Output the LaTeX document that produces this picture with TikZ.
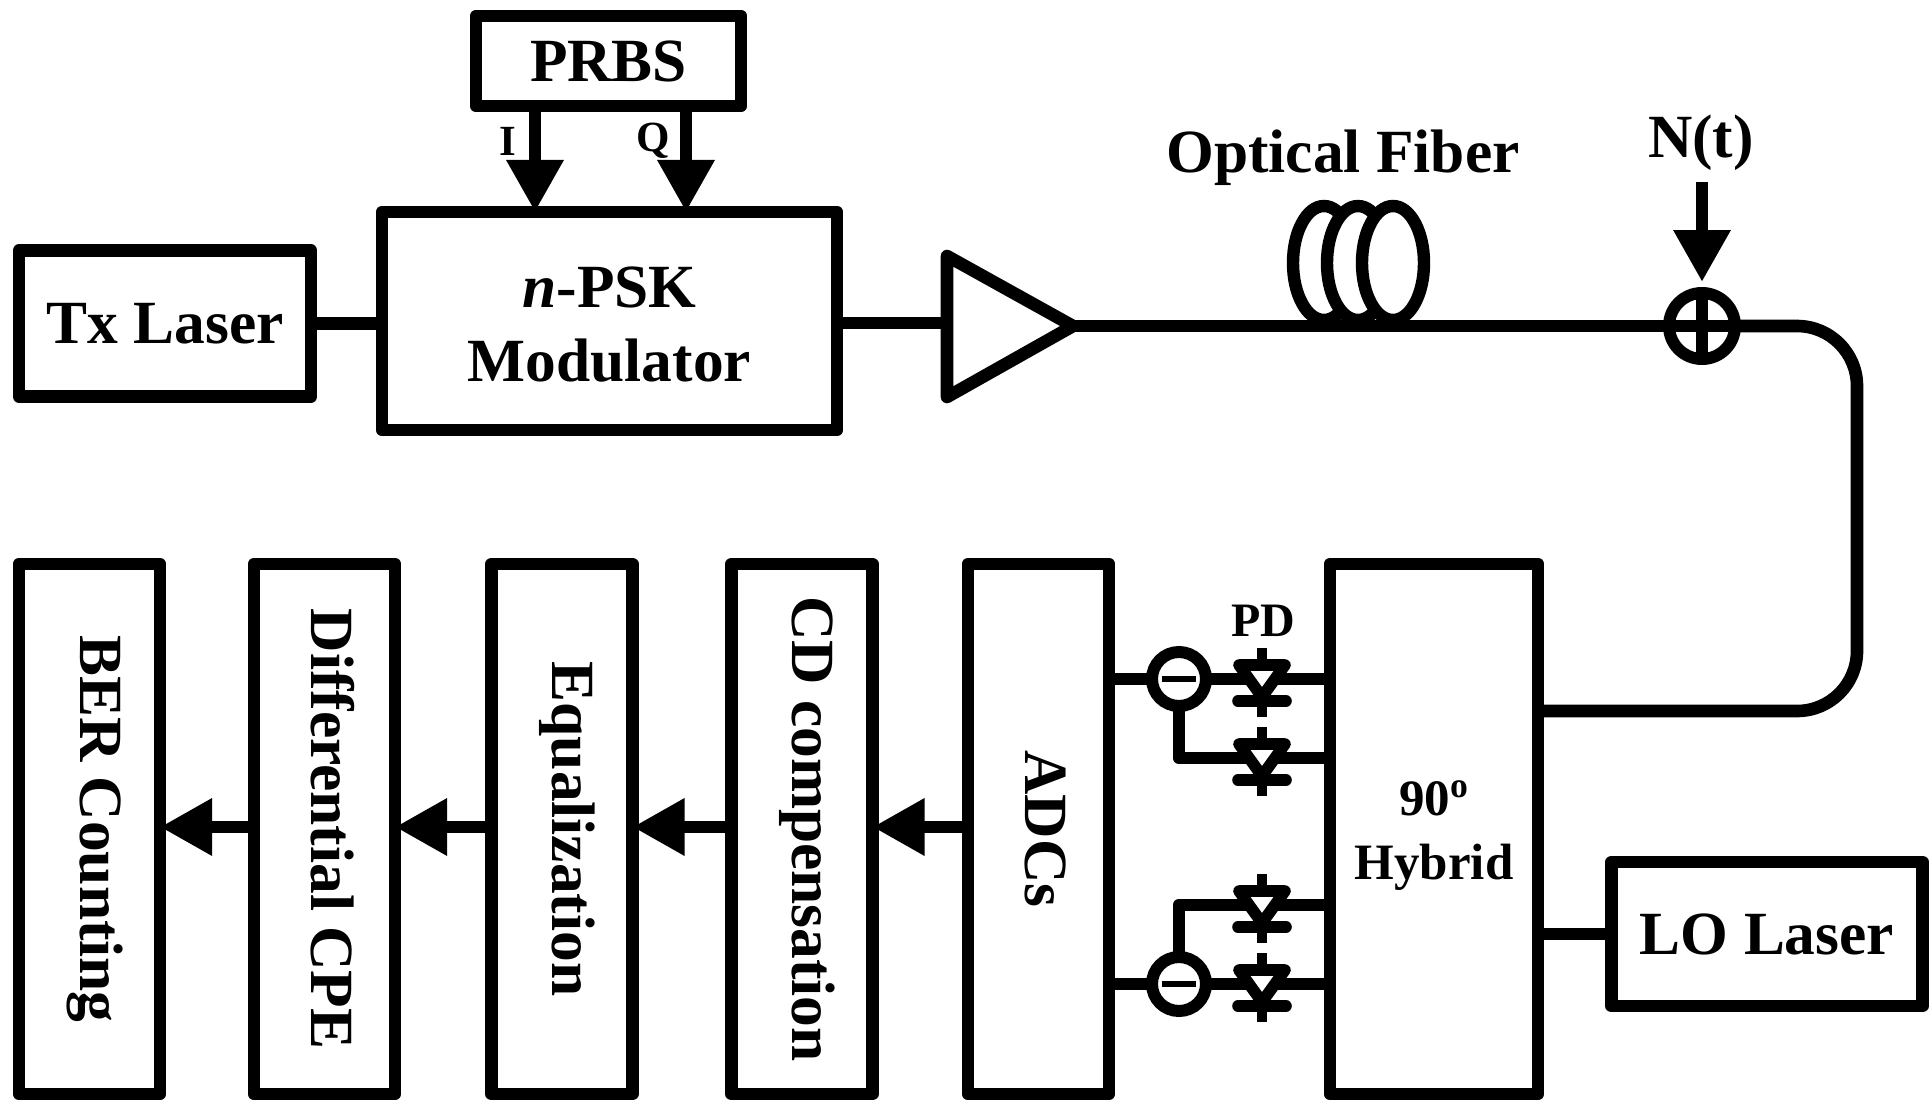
\documentclass[tikz,border=0pt]{standalone}
\usepackage{graphicx}
\usepackage{fontspec}
\setmainfont{Liberation Serif}
\usetikzlibrary{arrows.meta}
\newcommand{\rtext}[2]{\hspace*{#1}\rotatebox{-90}{#2}}
\tikzset{
  every node/.style={font=\fontsize{30.7}{37}\selectfont\bfseries},
  wire/.style={line width=6.3pt,line join=round},
  box/.style={draw,line width=6.3pt,line join=round,inner sep=0pt,outer sep=0pt,align=center,fill=white},
  tallbox/.style={box,minimum width=70.5pt,minimum height=265pt},
  flow/.style={wire,-{Triangle[length=26pt,width=27pt]}},
  ring/.style={draw,circle,line width=6pt,inner sep=0pt,outer sep=0pt,fill=white,minimum size=27pt},
  pdlabel/.style={font=\fontsize{24}{29}\selectfont\bfseries,inner sep=0pt},
  iqlabel/.style={font=\fontsize{21.5}{26}\selectfont\bfseries,inner sep=0pt},
  coil/.style={line width=6.2pt,fill=white},
  diode/.pic={
    \draw[line width=5pt] (0,-31) -- (0,38);
    \draw[line width=5.8pt,line join=round,fill=white] (-23,-14) -- (23,-14) -- (0,18) -- cycle;
    \draw[line width=5.8pt,line cap=round] (-24,22) -- (24,22);
  }
}
\begin{document}
\begin{tikzpicture}[x=0.5pt,y=-0.5pt]
\useasboundingbox (0,0) rectangle (1929,1102);
\fill[white] (0,0) rectangle (1929,1102);
% boxes
\node[box,minimum width=146pt,minimum height=73pt] (tx) at (165,323.5) {Tx Laser};
\node[box,minimum width=227.5pt,minimum height=109pt] (mod) at (609.5,321) {\rule{0pt}{24pt}\textit{n}-PSK\\Modulator};
\node[box,minimum width=132.5pt,minimum height=45pt] (prbs) at (608.5,61) {PRBS};
\node[tallbox] (ber) at (89.5,829) {\rtext{6pt}{BER Counting}};
\node[tallbox] (cpe) at (324.5,829) {\rtext{8.5pt}{Differential CPE}};
\node[tallbox] (eq) at (562,829) {\rtext{5pt}{Equalization}};
\node[tallbox] (cd) at (802,829) {\rtext{5pt}{CD compensation}};
\node[tallbox] (adc) at (1038.5,829) {\rtext{7pt}{ADCs}};
\node[box,minimum width=104pt,minimum height=265pt,font=\fontsize{25.5}{32}\selectfont\bfseries] (hyb) at (1434,829) {\rule{0pt}{24pt}90\textsuperscript{o}\\Hybrid};
\node[box,minimum width=155.5pt,minimum height=72pt] (lo) at (1767,934) {LO Laser};
% text labels
\node[inner sep=0pt] (fibertext) at (1343,158) {Optical Fiber};
\node[inner sep=0pt] (ntext) at (1701,143) {N(t)};
\node[pdlabel] (pdtext) at (1263,621) {PD};
\node[iqlabel] (itext) at (508,141) {I};
\node[iqlabel] (qtext) at (653,141) {Q};
% fibre coil
\coordinate (c1) at (1324,263);
\coordinate (c2) at (1358,263);
\coordinate (c3) at (1393,263);
\draw[coil] (c1) ellipse[x radius=31,y radius=57];
\draw[coil] (c2) ellipse[x radius=31,y radius=57];
\draw[coil] (c3) ellipse[x radius=31,y radius=57];
% amplifier
\coordinate (ampA) at (947,256);
\coordinate (ampB) at (947,397);
\coordinate (ampT) at (1073,326);
\coordinate (ampIn) at (947,323);
% adder
\node[ring,minimum size=33pt,fill=none] (add) at (1702,326) {};
\coordinate (bendT) at (1857,326);
\coordinate (bendB) at (1857,711);
\coordinate (hybIn) at (1538,711);
\coordinate (nstart) at (1702,182);
% connectors top
\draw[wire] (tx.east) -- (mod.west |- tx.east);
\draw[wire] (mod.east |- ampIn) -- (ampIn);
\draw[wire] (ampA) -- (ampT) -- (ampB) -- cycle;
\draw[wire] (ampT) -- (add.west);
\draw[wire] (add.west) -- (add.east);
\draw[wire,rounded corners=30pt] (add.east) -- (bendT) -- (bendB) -- (hybIn);
\draw[wire] (add.north) -- (add.south);
\draw[flow,shorten >=5.5pt] (nstart) -- (add.north);
\coordinate (iX) at (535,106);
\coordinate (qX) at (686,106);
\draw[flow] (iX) -- (iX |- mod.north);
\draw[flow] (qX) -- (qX |- mod.north);
% connectors bottom
\coordinate (flowY) at (0,827);
\draw[flow] (adc.west |- flowY) -- (cd.east |- flowY);
\draw[flow] (cd.west |- flowY) -- (eq.east |- flowY);
\draw[flow] (eq.west |- flowY) -- (cpe.east |- flowY);
\draw[flow] (cpe.west |- flowY) -- (ber.east |- flowY);
\draw[wire] (hyb.east |- lo.west) -- (lo.west);
% photodiode rows
\coordinate (r1) at (1330,679);
\coordinate (r2) at (1330,758);
\coordinate (r3) at (1330,905);
\coordinate (r4) at (1330,984);
\node[ring] (s1) at (1179,679) {};
\node[ring] (s2) at (1179,984) {};
\draw[wire] (adc.east |- s1) -- (s1.west);
\draw[wire] (adc.east |- s2) -- (s2.west);
\draw[wire] (s1.east) -- (r1);
\draw[wire] (s2.east) -- (r4);
\draw[wire] (s1.south) |- (r2);
\draw[wire] (s2.north) |- (r3);
\draw[line width=2.6pt] ([xshift=-8.5pt]s1.center) -- ([xshift=8.5pt]s1.center);
\draw[line width=2.6pt] ([xshift=-8.5pt]s2.center) -- ([xshift=8.5pt]s2.center);
\pic at (1262,679) {diode};
\pic at (1262,758) {diode};
\pic at (1262,905) {diode};
\pic at (1262,984) {diode};
\end{tikzpicture}
\end{document}
